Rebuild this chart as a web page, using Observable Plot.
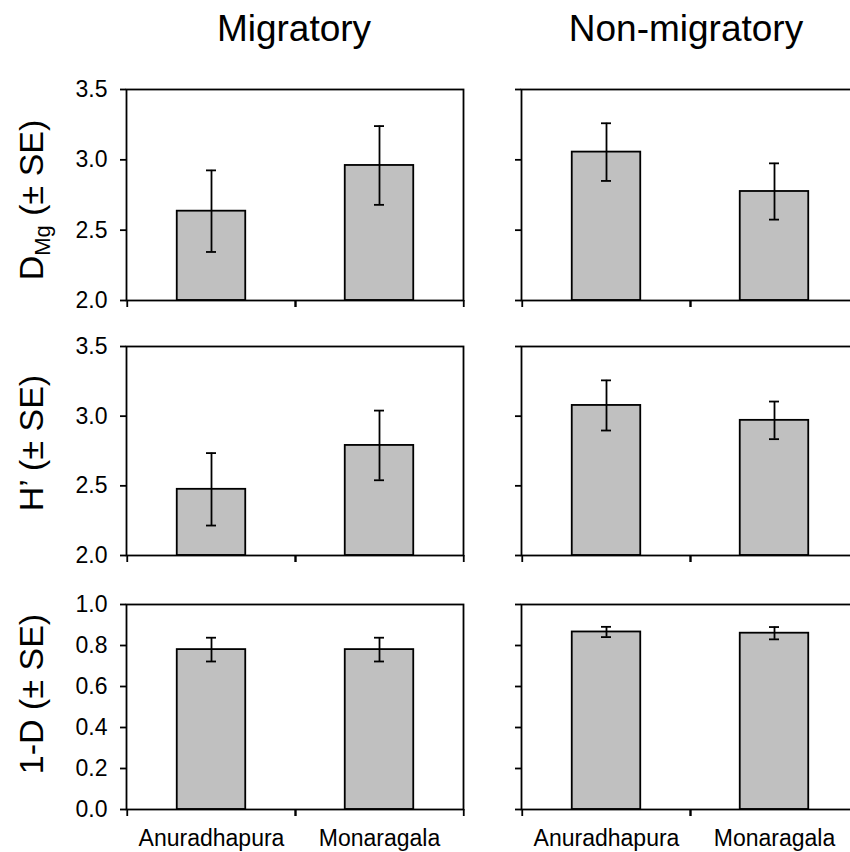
<!DOCTYPE html>
<html><head><meta charset="utf-8">
<script src="https://cdn.jsdelivr.net/npm/d3@7"></script>
<script src="https://cdn.jsdelivr.net/npm/@observablehq/plot@0.6"></script>
<style>
html,body{margin:0;padding:0;background:#fff;overflow:hidden;}
#page{position:relative;width:850px;height:852px;overflow:hidden;font-family:"Liberation Sans",Arial,sans-serif;}
#page > svg{position:absolute;}
</style></head><body><div id="page"></div>
<script>
// ---- data ----
const sites = ["Anuradhapura", "Monaragala"];
const groupTitles = ["Migratory", "Non-migratory"];

const dmgMigratory = [2.635, 2.96];
const dmgMigratorySE = [0.29, 0.28];
const dmgNonMigratory = [3.055, 2.775];
const dmgNonMigratorySE = [0.205, 0.2];

const hMigratory = [2.475, 2.79];
const hMigratorySE = [0.26, 0.25];
const hNonMigratory = [3.077, 2.97];
const hNonMigratorySE = [0.18, 0.135];

const simpsonMigratory = [0.78, 0.78];
const simpsonMigratorySE = [0.058, 0.058];
const simpsonNonMigratory = [0.866, 0.86];
const simpsonNonMigratorySE = [0.025, 0.03];

const diversityDomain = [2, 3.5];
const diversityTicks = [2.0, 2.5, 3.0, 3.5];
const simpsonDomain = [0, 1];
const simpsonTicks = [0, 0.2, 0.4, 0.6, 0.8, 1.0];

// ---- layout ----
const page = document.getElementById("page");
const innerW = 337;
const FONT = "'Liberation Sans', Arial, sans-serif";
const cols = [
  {left: 0, width: 470, marginLeft: 126, marginRight: 7, yLabels: true},
  {left: 480, width: 385, marginLeft: 41, marginRight: 7, yLabels: false}
];
const rows = [
  {top: 70, marginTop: 19, plotH: 211, marginBottom: 20, domain: diversityDomain, ticks: diversityTicks, xLabels: false,
   series: [[dmgMigratory, dmgMigratorySE], [dmgNonMigratory, dmgNonMigratorySE]]},
  {top: 326, marginTop: 20, plotH: 209, marginBottom: 20, domain: diversityDomain, ticks: diversityTicks, xLabels: false,
   series: [[hMigratory, hMigratorySE], [hNonMigratory, hNonMigratorySE]]},
  {top: 585, marginTop: 19, plotH: 205, marginBottom: 50, domain: simpsonDomain, ticks: simpsonTicks, xLabels: true,
   series: [[simpsonMigratory, simpsonMigratorySE], [simpsonNonMigratory, simpsonNonMigratorySE]]}
];

function panel(row, col, means, ses) {
  const data = sites.map((s, i) => ({site: s, mean: means[i], lo: means[i] - ses[i], hi: means[i] + ses[i]}));
  const black = {stroke: "#000", strokeWidth: 1.8};
  const marks = [
    Plot.barY(data, {x: "site", y1: row.domain[0], y2: "mean", fill: "#c0c0c0", ...black, insetLeft: 49.75, insetRight: 49.75}),
    Plot.ruleX(data, {x: "site", y1: "lo", y2: "hi", ...black}),
    Plot.tickY(data, {x: "site", y: "hi", insetLeft: 79, insetRight: 79, ...black}),
    Plot.tickY(data, {x: "site", y: "lo", insetLeft: 79, insetRight: 79, ...black}),
    Plot.frame(black),
    Plot.axisY(row.ticks, {tickSize: 6, tickPadding: 13, strokeWidth: 1.8, fontSize: 23, label: null,
      tickFormat: col.yLabels ? d3.format(".1f") : () => ""}),
    Plot.axisX(sites, {tickSize: 7, strokeWidth: 1.8, tickFormat: () => "", label: null, dx: -innerW / 4}),
    Plot.axisX(sites, {tickSize: 7, strokeWidth: 1.8, tickFormat: () => "", label: null, dx: innerW / 4})
  ];
  if (row.xLabels) marks.push(Plot.axisX(sites, {tickSize: 0, tickPadding: 20, fontSize: 23, label: null}));
  const svg = Plot.plot({
    width: col.width,
    height: row.marginTop + row.plotH + row.marginBottom,
    marginLeft: col.marginLeft, marginRight: col.marginRight,
    marginTop: row.marginTop, marginBottom: row.marginBottom,
    x: {type: "band", domain: sites, padding: 0, axis: null, label: null},
    y: {domain: row.domain, axis: null, label: null},
    style: {fontFamily: FONT, fontSize: "23px", color: "#000", background: "transparent", overflow: "visible"},
    marks
  });
  svg.style.left = col.left + "px";
  svg.style.top = row.top + "px";
  page.appendChild(svg);
}

rows.forEach(row => cols.forEach((col, j) => panel(row, col, row.series[j][0], row.series[j][1])));

// ---- titles & y labels ----
const ns = "http://www.w3.org/2000/svg";
const ov = document.createElementNS(ns, "svg");
ov.setAttribute("width", 850); ov.setAttribute("height", 852);
ov.style.left = "0px"; ov.style.top = "0px"; ov.style.pointerEvents = "none";
ov.setAttribute("font-family", FONT);
ov.innerHTML = `
<text x="294" y="41" text-anchor="middle" font-size="37">${groupTitles[0]}</text>
<text x="686" y="41" text-anchor="middle" font-size="37">${groupTitles[1]}</text>
<text transform="translate(43,200) rotate(-90)" text-anchor="middle" font-size="34">D<tspan font-size="22" dy="7">Mg</tspan><tspan dy="-7"> (± SE)</tspan></text>
<text transform="translate(43,443) rotate(-90)" text-anchor="middle" font-size="34">H’ (± SE)</text>
<text transform="translate(43,694) rotate(-90)" text-anchor="middle" font-size="34">1-D (± SE)</text>`;
page.appendChild(ov);
</script>
</body></html>
